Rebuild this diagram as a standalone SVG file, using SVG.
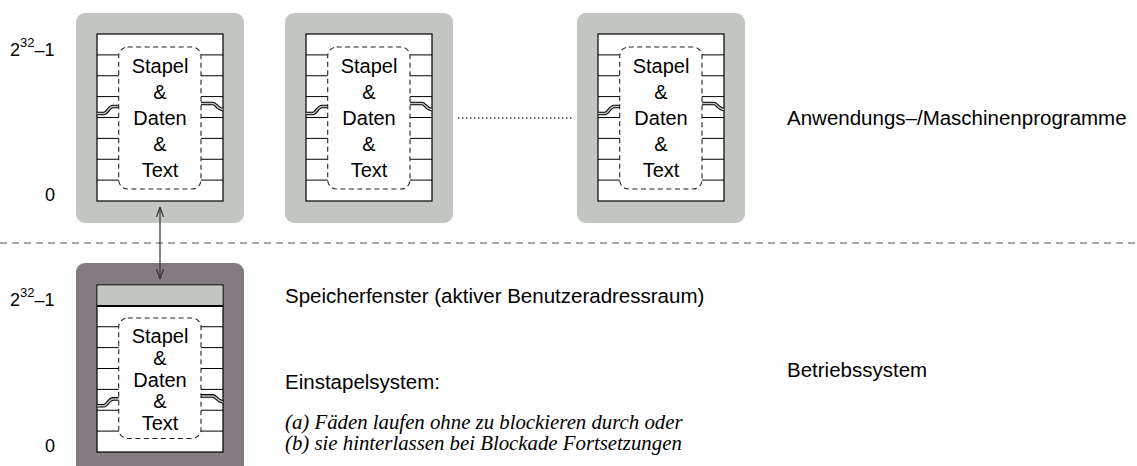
<svg xmlns="http://www.w3.org/2000/svg" width="1137" height="466" viewBox="0 0 1137 466">
<defs>
<style>
.outerL{fill:#c1c6c0}
.outerD{fill:#827c81}
.inner{fill:#fff;stroke:#000;stroke-width:1.2}
.row{stroke:#000;stroke-width:1;fill:none}
.dash{fill:#fff;stroke:#222;stroke-width:1.1;stroke-dasharray:5 3.5}
.waveB{fill:none;stroke:#000;stroke-width:3.6}
.waveW{fill:none;stroke:#c1c6c0;stroke-width:1.5}
.bt{font-family:"Liberation Sans",Arial,sans-serif;font-size:20px;fill:#000;text-anchor:middle}
.lab{font-family:"Liberation Sans",Arial,sans-serif;font-size:20.5px;fill:#000}
.num{font-family:"Liberation Sans",Arial,sans-serif;font-size:18px;fill:#000}
.it{font-family:"Liberation Serif","Times New Roman",serif;font-style:italic;font-size:20.8px;fill:#000}
.conn{stroke:#333;stroke-width:1.2;fill:none}
</style>
<marker id="ah" viewBox="0 0 10 8" refX="10" refY="4" markerWidth="10" markerHeight="8" markerUnits="userSpaceOnUse" orient="auto-start-reverse">
<path d="M0,0.5 L10,4 L0,7.5" fill="none" stroke="#333" stroke-width="1.2"/>
</marker>
</defs>
<rect width="1137" height="466" fill="#fff"/>

<g id="prog1" transform="translate(76,0)">
<rect class="outerL" x="0" y="13" width="168" height="210" rx="9"/>
<rect class="inner" x="21" y="34" width="126" height="167"/>
<path class="row" d="M21,54.9H43M21,75.75H43M21,96.6H43M21,117.5H43M21,138.4H43M21,159.25H43M21,180.1H43M125,54.9H147M125,75.75H147M125,96.6H147M125,117.5H147M125,138.4H147M125,159.25H147M125,180.1H147"/>
<path class="waveB" d="M21,113.5H28C31,113.5 33,106.5 37,106.5H43M125,103.5H137C140,103.5 142,109.5 147,109.5"/>
<path class="waveW" d="M21,113.5H28C31,113.5 33,106.5 37,106.5H43M125,103.5H137C140,103.5 142,109.5 147,109.5"/>
<rect class="dash" x="42.7" y="47" width="82.3" height="142" rx="9"/>
<text class="bt" x="84" y="73">Stapel</text>
<text class="bt" x="84" y="99">&amp;</text>
<text class="bt" x="84" y="125">Daten</text>
<text class="bt" x="84" y="151">&amp;</text>
<text class="bt" x="84" y="177">Text</text>
</g>

<g id="prog2" transform="translate(285,0)">
<rect class="outerL" x="0" y="13" width="168" height="210" rx="9"/>
<rect class="inner" x="21" y="34" width="126" height="167"/>
<path class="row" d="M21,54.9H43M21,75.75H43M21,96.6H43M21,117.5H43M21,138.4H43M21,159.25H43M21,180.1H43M125,54.9H147M125,75.75H147M125,96.6H147M125,117.5H147M125,138.4H147M125,159.25H147M125,180.1H147"/>
<path class="waveB" d="M21,113.5H28C31,113.5 33,106.5 37,106.5H43M125,103.5H137C140,103.5 142,109.5 147,109.5"/>
<path class="waveW" d="M21,113.5H28C31,113.5 33,106.5 37,106.5H43M125,103.5H137C140,103.5 142,109.5 147,109.5"/>
<rect class="dash" x="42.7" y="47" width="82.3" height="142" rx="9"/>
<text class="bt" x="84" y="73">Stapel</text>
<text class="bt" x="84" y="99">&amp;</text>
<text class="bt" x="84" y="125">Daten</text>
<text class="bt" x="84" y="151">&amp;</text>
<text class="bt" x="84" y="177">Text</text>
</g>

<g id="prog3" transform="translate(577,0)">
<rect class="outerL" x="0" y="13" width="168" height="210" rx="9"/>
<rect class="inner" x="21" y="34" width="126" height="167"/>
<path class="row" d="M21,54.9H43M21,75.75H43M21,96.6H43M21,117.5H43M21,138.4H43M21,159.25H43M21,180.1H43M125,54.9H147M125,75.75H147M125,96.6H147M125,117.5H147M125,138.4H147M125,159.25H147M125,180.1H147"/>
<path class="waveB" d="M21,113.5H28C31,113.5 33,106.5 37,106.5H43M125,103.5H137C140,103.5 142,109.5 147,109.5"/>
<path class="waveW" d="M21,113.5H28C31,113.5 33,106.5 37,106.5H43M125,103.5H137C140,103.5 142,109.5 147,109.5"/>
<rect class="dash" x="42.7" y="47" width="82.3" height="142" rx="9"/>
<text class="bt" x="84" y="73">Stapel</text>
<text class="bt" x="84" y="99">&amp;</text>
<text class="bt" x="84" y="125">Daten</text>
<text class="bt" x="84" y="151">&amp;</text>
<text class="bt" x="84" y="177">Text</text>
</g>

<g id="os" transform="translate(76,0)">
<rect class="outerD" x="0" y="263" width="168" height="220" rx="9"/>
<rect class="inner" x="21" y="285" width="126" height="167"/>
<rect x="21.6" y="285.6" width="124.8" height="20.3" fill="#c1c6c0"/>
<path d="M21,305.9H147" stroke="#000" stroke-width="2"/>
<path class="row" d="M21,326.75H43M21,347.6H43M21,368.5H43M21,389.4H43M21,410.25H43M21,431.1H43M125,326.75H147M125,347.6H147M125,368.5H147M125,389.4H147M125,410.25H147M125,431.1H147"/>
<path class="waveB" d="M21,405.75H28C31,405.75 33,398.9 37,398.9H43M125,395.9H137C140,395.9 142,401.9 147,401.9"/>
<path class="waveW" d="M21,405.75H28C31,405.75 33,398.9 37,398.9H43M125,395.9H137C140,395.9 142,401.9 147,401.9"/>
<rect class="dash" x="42.7" y="318" width="82.3" height="120.5" rx="9"/>
<text class="bt" x="84" y="343">Stapel</text>
<text class="bt" x="84" y="365">&amp;</text>
<text class="bt" x="84" y="387">Daten</text>
<text class="bt" x="84" y="408">&amp;</text>
<text class="bt" x="84" y="430">Text</text>
</g>

<g id="connectors">
<path d="M0,243H1137" stroke="#555" stroke-width="1" stroke-dasharray="7 5" fill="none"/>
<path d="M458,118H573" stroke="#333" stroke-width="1.6" stroke-dasharray="1.4 2.6" fill="none"/>
<path class="conn" d="M160,207V279" marker-start="url(#ah)" marker-end="url(#ah)"/>
</g>

<g id="labels">
<text class="num" x="10" y="56">2<tspan font-size="13" dy="-9">32</tspan><tspan dy="9">–1</tspan></text>
<text class="num" x="45" y="201">0</text>
<text class="num" x="10" y="306">2<tspan font-size="13" dy="-9">32</tspan><tspan dy="9">–1</tspan></text>
<text class="num" x="45" y="452">0</text>
<text class="lab" x="787" y="125">Anwendungs–/Maschinenprogramme</text>
<text class="lab" x="285" y="303">Speicherfenster (aktiver Benutzeradressraum)</text>
<text class="lab" x="285" y="389">Einstapelsystem:</text>
<text class="it" x="285" y="429">(a) Fäden laufen ohne zu blockieren durch oder</text>
<text class="it" x="285" y="450">(b) sie hinterlassen bei Blockade Fortsetzungen</text>
<text class="lab" x="787" y="377">Betriebssystem</text>
</g>
</svg>
